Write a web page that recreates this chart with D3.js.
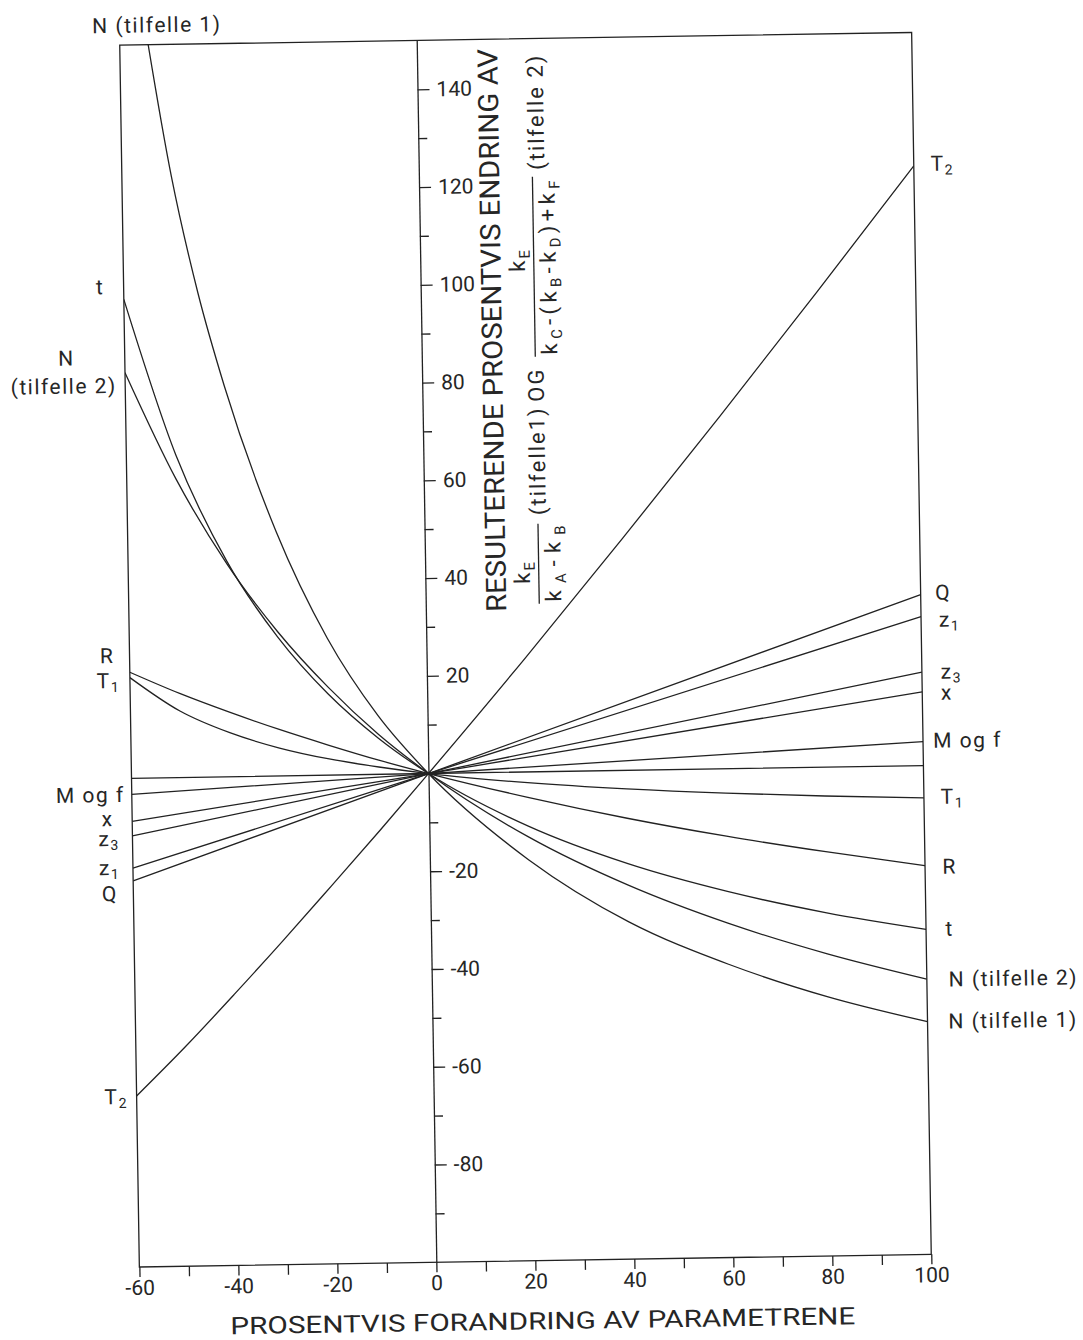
<!DOCTYPE html>
<html>
<head>
<meta charset="utf-8">
<script src="https://cdnjs.cloudflare.com/ajax/libs/d3/7.8.5/d3.min.js"></script>
<style>
  body { margin: 0; background: #fff; }
  .frame, .series, .bar { fill: none; stroke: #222; stroke-width: 1.3; }
  .axis path, .axis line { stroke: #222; stroke-width: 1.3; }
  text { font-family: Roboto, "Liberation Sans", sans-serif; fill: #262626; }
</style>
</head>
<body>
<div id="root"></div>
<script>
// ---- data ----
// x: percent change of the parameter, y: resulting percent change
const xCurve = [-60, -50, -40, -30, -20, -10, 0, 20, 40, 60, 80, 100];
const xN1 = [-56, -50, -45, -40, -30, -20, -10, 0, 20, 40, 60, 80, 100];
const nCase1 = [162, 123, 99, 80, 50, 28, 12, 0, -18, -31, -40, -47, -52.4];
const nCase2 = [83, 61, 43.5, 29.5, 18, 8.2, 0, -13.3, -23.5, -31.6, -38.2, -43.7];
const tVals = [98, 66, 44, 28.4, 16.6, 7.4, 0, -11.1, -19.1, -25.1, -29.8, -33.5];
const rVals = [21.7, 17.2, 13.2, 9.5, 6.1, 2.9, 0, -5.2, -9.8, -13.8, -17.3, -20.5];
const t1Vals = [20.6, 13.6, 9.0, 5.7, 3.3, 1.5, 0, -2.2, -3.8, -5.0, -5.9, -6.6];
const t2Vals = [-65, -55.1, -44.6, -33.8, -22.7, -11.5, 0, 23.4, 47.5, 72.1, 97.2, 122.7];

const xStraight = [-60, 0, 100];
const qVals = [-21, 0, 35];
const z1Vals = [-18.4, 0, 30.5];
const z3Vals = [-11.8, 0, 19.1];
const xParVals = [-8.8, 0, 15.1];
const mfVals = [-3.3, 0, 4.9];
const zeroVals = [0, 0, 0];

const xTickLabels = [-60, -40, -20, 0, 20, 40, 60, 80, 100];
const yTickLabels = [-80, -60, -40, -20, 20, 40, 60, 80, 100, 120, 140];

// line end labels ("_" = next char is a subscript)
const leftLabels = [
  {text: "N (tilfelle 1)", x: 167, y: 19},
  {text: "t", x: 106, y: 280},
  {text: "N", x: 71, y: 351},
  {text: "(tilfelle 2)", x: 68, y: 379},
  {text: "R", x: 107, y: 649},
  {text: "T_1", x: 108, y: 674},
  {text: "M og f", x: 88, y: 788},
  {text: "x", x: 105, y: 812},
  {text: "z_3", x: 106, y: 832},
  {text: "z_1", x: 106, y: 861},
  {text: "Q", x: 106, y: 887},
  {text: "T_2", x: 109, y: 1090}
];
const rightLabels = [
  {text: "T_2", x: 950, y: 170},
  {text: "Q", x: 944, y: 599},
  {text: "z_1", x: 950, y: 626},
  {text: "z_3", x: 951, y: 678},
  {text: "x", x: 946, y: 699},
  {text: "M og f", x: 966, y: 747},
  {text: "T_1", x: 950, y: 803},
  {text: "R", x: 946, y: 873},
  {text: "t", x: 945, y: 935},
  {text: "N (tilfelle 2)", x: 1008, y: 986},
  {text: "N (tilfelle 1)", x: 1007, y: 1028}
];

const series = [
  {xs: xN1, ys: nCase1, curve: d3.curveMonotoneX},
  {xs: xCurve, ys: nCase2, curve: d3.curveMonotoneX},
  {xs: xCurve, ys: tVals, curve: d3.curveMonotoneX},
  {xs: xCurve, ys: rVals, curve: d3.curveMonotoneX},
  {xs: xCurve, ys: t1Vals, curve: d3.curveMonotoneX},
  {xs: xCurve, ys: t2Vals, curve: d3.curveMonotoneX},
  {xs: xStraight, ys: qVals, curve: d3.curveLinear},
  {xs: xStraight, ys: z1Vals, curve: d3.curveLinear},
  {xs: xStraight, ys: z3Vals, curve: d3.curveLinear},
  {xs: xStraight, ys: xParVals, curve: d3.curveLinear},
  {xs: xStraight, ys: mfVals, curve: d3.curveLinear},
  {xs: xStraight, ys: zeroVals, curve: d3.curveLinear}
];

// ---- layout ----
const W = 1083, H = 1340;
const margin = {top: 38.75, left: 129.5},
    width = 792,
    height = 1222;

const x = d3.scaleLinear().domain([-60, 100]).range([margin.left, margin.left + width]);
const y = d3.scaleLinear().domain([-100, 150]).range([margin.top + height, margin.top]);

const svg = d3.select("#root").append("svg")
    .attr("width", W)
    .attr("height", H);

// the scan sits slightly skewed on the page
const page = svg.append("g")
    .attr("transform", "rotate(-0.92, 525.5, 649.75)");

svg.append("defs").append("clipPath")
    .attr("id", "plotClip")
  .append("rect")
    .attr("x", margin.left).attr("y", margin.top)
    .attr("width", width).attr("height", height);

// helper: text with subscripts
function richText(sel, str, subSize, shift) {
    const parts = str.split(/_(\w)/);
    let down = false;
    parts.forEach((p, i) => {
        if (!p) return;
        const t = sel.append("tspan").text(p);
        if (i % 2 === 1) {
            t.attr("font-size", subSize).attr("dy", shift);
            down = true;
        } else if (down) {
            t.attr("dy", -shift);
            down = false;
        }
    });
    return sel;
}

// frame
page.append("rect")
    .attr("class", "frame")
    .attr("x", margin.left).attr("y", margin.top)
    .attr("width", width).attr("height", height);

// series lines
const lines = page.append("g").attr("clip-path", "url(#plotClip)");
series.forEach((s) => {
    const pts = s.xs.map((v, i) => [v, s.ys[i]]);
    lines.append("path")
        .datum(pts)
        .attr("class", "series")
        .attr("d", d3.line().curve(s.curve)
            .x((d) => x(d[0]))
            .y((d) => y(d[1])));
});

// bottom axis
const xAxis = page.append("g")
    .attr("class", "axis")
    .attr("transform", "translate(0," + (margin.top + height) + ")")
    .call(d3.axisBottom(x)
        .tickValues(d3.range(-60, 101, 10))
        .tickSize(10).tickSizeOuter(0).tickPadding(3)
        .tickFormat((d) => xTickLabels.includes(d) ? String(d) : ""));
xAxis.attr("font-family", null).attr("font-size", 21);
xAxis.select(".domain").remove();

// vertical axis through x = 0
const yAxis = page.append("g")
    .attr("class", "axis")
    .attr("transform", "translate(" + x(0) + ",0)")
    .call(d3.axisRight(y)
        .tickValues(yTickLabels)
        .tickSize(12).tickSizeOuter(0).tickPadding(7)
        .tickFormat((d) => String(d)));
yAxis.attr("font-family", null).attr("font-size", 21);

page.append("g")
    .attr("class", "axis")
    .attr("transform", "translate(" + x(0) + ",0)")
    .call(d3.axisRight(y)
        .tickValues(d3.range(-90, 150, 20))
        .tickSize(9).tickSizeOuter(0)
        .tickFormat(""))
    .select(".domain").remove();

// end labels
function drawLabels(list) {
    list.forEach((l) => {
        const t = page.append("text")
            .attr("x", l.x).attr("y", l.y)
            .attr("dy", "0.35em")
            .attr("text-anchor", "middle")
            .attr("font-size", 21)
            .attr("letter-spacing", 1.5);
        richText(t, l.text, 14, 4);
    });
}
drawLabels(leftLabels);
drawLabels(rightLabels);

// x axis title
page.append("text")
    .attr("x", 532).attr("y", 1321)
    .attr("dy", "0.35em")
    .attr("text-anchor", "middle")
    .attr("font-size", 24)
    .attr("textLength", 625)
    .attr("lengthAdjust", "spacingAndGlyphs")
    .text("PROSENTVIS FORANDRING AV PARAMETRENE");

// vertical title block with the two ratios
const vt = page.append("g")
    .attr("transform", "translate(540,620)rotate(-90)");

vt.append("text")
    .attr("x", 290).attr("y", -43)
    .attr("dy", "0.35em")
    .attr("text-anchor", "middle")
    .attr("font-size", 28)
    .attr("textLength", 563)
    .attr("lengthAdjust", "spacingAndGlyphs")
    .text("RESULTERENDE PROSENTVIS ENDRING AV");

// fraction 1
vt.append("line").attr("class", "bar").attr("x1", 16).attr("x2", 96).attr("y1", 0).attr("y2", 0);
richText(vt.append("text").attr("x", 48).attr("y", -9)
    .attr("text-anchor", "middle").attr("font-size", 22).attr("letter-spacing", 2), "k_E", 15, 5);
richText(vt.append("text").attr("x", 56).attr("y", 22)
    .attr("text-anchor", "middle").attr("font-size", 22)
    .attr("textLength", 76).attr("lengthAdjust", "spacing"), "k_A-k_B", 15, 5);

vt.append("text").attr("x", 159).attr("y", 8)
    .attr("text-anchor", "middle").attr("font-size", 22).attr("letter-spacing", 2)
    .text("(tilfelle1)");
vt.append("text").attr("x", 235).attr("y", 8)
    .attr("text-anchor", "middle").attr("font-size", 22).attr("letter-spacing", 2)
    .text("OG");

// fraction 2
vt.append("line").attr("class", "bar").attr("x1", 263).attr("x2", 443).attr("y1", 0).attr("y2", 0);
richText(vt.append("text").attr("x", 360).attr("y", -9)
    .attr("text-anchor", "middle").attr("font-size", 22).attr("letter-spacing", 2), "k_E", 15, 5);
richText(vt.append("text").attr("x", 352).attr("y", 22)
    .attr("text-anchor", "middle").attr("font-size", 22)
    .attr("textLength", 174).attr("lengthAdjust", "spacing"), "k_C-(k_B-k_D)+k_F", 15, 5);

vt.append("text").attr("x", 508).attr("y", 12)
    .attr("text-anchor", "middle").attr("font-size", 22).attr("letter-spacing", 2)
    .text("(tilfelle 2)");
</script>
</body>
</html>
